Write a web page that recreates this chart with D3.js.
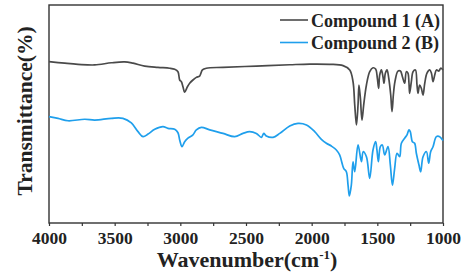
<!DOCTYPE html>
<html>
<head>
<meta charset="utf-8">
<script src="https://cdn.jsdelivr.net/npm/d3@7"></script>
<style>
    body { margin: 0; background: #fff; }
    #chart { width: 476px; height: 275px; }
    text { font-family: "Liberation Serif", "Times New Roman", serif; font-weight: bold; }
</style>
</head>
<body>
<div id="chart"></div>
<script>
// wavenumber (cm-1) and transmittance (arbitrary %)
const wavenumbersA = [4000, 3880, 3779, 3652, 3525, 3424, 3360, 3271, 3170, 3081, 3043, 3018, 3005, 2992, 2980, 2967, 2946, 2929, 2904, 2878, 2853, 2832, 2802, 2675, 2421, 2167, 2015, 1863, 1761, 1710, 1685, 1672, 1659, 1647, 1640, 1629, 1617, 1604, 1583, 1558, 1533, 1513, 1500, 1490, 1482, 1469, 1457, 1449, 1439, 1426, 1413, 1398, 1388, 1378, 1366, 1343, 1324, 1309, 1292, 1279, 1267, 1259, 1254, 1241, 1228, 1210, 1198, 1190, 1178, 1165, 1152, 1139, 1122, 1101, 1088, 1076, 1063, 1050, 1031, 1018, 1000]
const transmittanceA = [74.0, 73.3, 72.8, 72.5, 73.5, 73.9, 73.3, 72.0, 71.4, 71.0, 70.5, 69.4, 65.6, 64.8, 62.5, 60.0, 62.5, 64.1, 65.6, 66.8, 67.4, 70.2, 71.0, 71.4, 72.0, 72.6, 72.9, 72.8, 72.2, 70.2, 64.8, 54.1, 45.0, 54.1, 63.3, 57.3, 47.2, 54.1, 63.3, 69.4, 71.2, 70.6, 66.5, 61.8, 67.9, 70.2, 67.1, 64.1, 68.7, 70.2, 66.4, 58.7, 51.1, 58.7, 64.8, 69.7, 69.7, 67.1, 64.1, 69.4, 68.7, 64.1, 59.5, 64.8, 69.4, 70.2, 63.3, 59.5, 63.3, 61.8, 58.7, 64.1, 68.7, 70.2, 68.7, 64.8, 67.9, 70.2, 69.7, 71.0, 70.2]

const wavenumbersB = [4000, 3931, 3855, 3728, 3652, 3525, 3437, 3373, 3322, 3284, 3246, 3195, 3132, 3094, 3043, 3018, 3005, 2987, 2967, 2942, 2904, 2878, 2840, 2776, 2675, 2586, 2523, 2472, 2421, 2383, 2365, 2345, 2294, 2243, 2167, 2104, 2040, 1977, 1926, 1888, 1850, 1812, 1787, 1756, 1736, 1723, 1713, 1698, 1685, 1672, 1647, 1621, 1608, 1583, 1558, 1533, 1513, 1503, 1492, 1477, 1462, 1444, 1419, 1401, 1385, 1368, 1350, 1330, 1317, 1292, 1274, 1259, 1249, 1233, 1216, 1203, 1183, 1170, 1152, 1126, 1109, 1094, 1076, 1050, 1025, 1000]
const transmittanceB = [48.8, 48.0, 46.9, 47.6, 47.2, 48.0, 48.0, 45.9, 41.9, 39.6, 40.8, 43.0, 44.2, 43.4, 43.0, 41.4, 38.1, 35.0, 37.3, 38.9, 40.4, 42.7, 43.9, 42.7, 41.1, 39.6, 41.1, 41.9, 41.1, 39.3, 41.1, 39.9, 39.3, 41.1, 44.5, 45.7, 45.0, 41.9, 38.4, 36.6, 35.3, 33.5, 31.2, 25.1, 23.5, 17.4, 12.4, 17.4, 28.0, 23.5, 35.8, 28.1, 32.7, 30.4, 20.5, 33.5, 37.3, 33.5, 28.1, 35.0, 35.8, 31.2, 35.0, 26.6, 17.4, 25.1, 32.0, 30.4, 36.6, 38.9, 40.4, 42.7, 41.9, 37.3, 36.6, 32.0, 26.6, 23.5, 30.4, 32.7, 27.4, 32.7, 35.0, 39.6, 39.6, 37.8]

const seriesNames = ["Compound 1 (A)", "Compound 2 (B)"]
const seriesColors = ["#4a4a4a", "#1f9fec"]
const xTicks = [4000, 3750, 3500, 3250, 3000, 2750, 2500, 2250, 2000, 1750, 1500, 1250, 1000]

function drawSpectrum() {
    const container = d3.select("#chart")
    container.selectAll("*").remove()

    // 1. sizes
    const width = 476
    const height = 275
    const margin = {top: 5, right: 33, bottom: 52, left: 49}
    const innerWidth = width - margin.left - margin.right
    const innerHeight = height - margin.top - margin.bottom

    const svg = container.append("svg")
                         .attr("width", width)
                         .attr("height", height)
    const chart = svg.append("g")
                     .attr("transform", `translate(${margin.left}, ${margin.top})`)

    // 2. scales
    const xScale = d3.scaleLinear()
                     .domain([4000, 1000])
                     .range([0, innerWidth])
    const yScale = d3.scaleLinear()
                     .domain([0, 100])
                     .range([innerHeight, 0])

    // 3. frame
    chart.append("rect")
         .attr("x", 0)
         .attr("y", 0)
         .attr("width", innerWidth)
         .attr("height", innerHeight)
         .attr("fill", "none")
         .attr("stroke", "#333")
         .attr("stroke-width", 1.4)

    // 4. x axis
    const xAxis = d3.axisBottom(xScale)
                    .tickValues(xTicks)
                    .tickSize(3)
                    .tickFormat(d => d % 500 === 0 ? d : "")
    chart.append("g")
         .attr("class", "x-axis")
         .attr("transform", `translate(0, ${innerHeight})`)
         .call(xAxis)
    chart.select(".x-axis").select(".domain").remove()
    chart.select(".x-axis").selectAll("line")
         .attr("stroke", "#333")
         .attr("stroke-width", 1.2)
    chart.select(".x-axis").selectAll("text")
         .attr("font-size", "17.5px")
         .attr("font-family", "'Liberation Serif', serif")
         .attr("font-weight", "bold")
         .attr("fill", "#222")
         .attr("dy", "0.85em")

    // 5. axis titles
    const xTitle = svg.append("text")
                      .attr("x", margin.left + innerWidth / 2 + 1)
                      .attr("y", 267)
                      .attr("text-anchor", "middle")
                      .attr("font-size", "22px")
                      .attr("fill", "#222")
    xTitle.append("tspan").text("Wavenumber(cm")
    xTitle.append("tspan").text("-1").attr("font-size", "13px").attr("dy", "-8")
    xTitle.append("tspan").text(")").attr("dy", "8")

    svg.append("text")
       .attr("transform", `translate(32, ${margin.top + innerHeight / 2 - 3}) rotate(-90)`)
       .attr("text-anchor", "middle")
       .attr("font-size", "21.5px")
       .attr("fill", "#222")
       .text("Transmittance(%)")

    // 6. spectra
    const series = [
        wavenumbersA.map((w, i) => ({w: w, t: transmittanceA[i]})),
        wavenumbersB.map((w, i) => ({w: w, t: transmittanceB[i]}))
    ]
    const line = d3.line()
                   .x(d => xScale(d.w))
                   .y(d => yScale(d.t))
                   .curve(d3.curveCatmullRom.alpha(0.5))
    chart.selectAll(".spectrum")
         .data(series)
         .join("path")
         .attr("class", "spectrum")
         .attr("d", line)
         .attr("fill", "none")
         .attr("stroke", (d, i) => seriesColors[i])
         .attr("stroke-width", 1.7)
         .attr("stroke-linejoin", "round")

    // 7. legend
    const legend = svg.append("g")
                      .attr("transform", "translate(280, 20)")
    const rows = legend.selectAll("g")
                       .data(seriesNames)
                       .join("g")
                       .attr("transform", (d, i) => `translate(0, ${i * 22.5})`)
    rows.append("line")
        .attr("x1", 0)
        .attr("x2", 28)
        .attr("stroke", (d, i) => seriesColors[i])
        .attr("stroke-width", 1.6)
    rows.append("text")
        .attr("x", 31)
        .attr("y", 6.5)
        .attr("font-size", "18px")
        .attr("fill", "#222")
        .text(d => d)
}

drawSpectrum()
</script>
</body>
</html>
